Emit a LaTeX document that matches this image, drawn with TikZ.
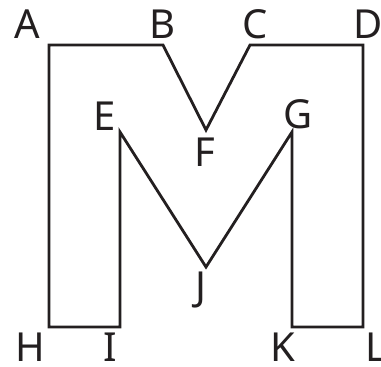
\documentclass[tikz,border=0pt]{standalone}
\usepackage{fontspec}
\setmainfont{Noto Sans}
\begin{document}
\begin{tikzpicture}[x=1pt,y=-1pt,
  outline/.style={line width=2.8pt,draw=ink,line join=miter},
  lbl/.style={inner sep=0pt,anchor=center,text=ink,font=\fontsize{40}{40}\selectfont}]
\definecolor{ink}{HTML}{231F20}
\useasboundingbox (0,0) rectangle (381,367);
\coordinate (A) at (49,45);
\coordinate (B) at (163,45);
\coordinate (F) at (206,130);
\coordinate (C) at (250,45);
\coordinate (D) at (363,45);
\coordinate (L) at (363,327);
\coordinate (K) at (292,327);
\coordinate (G) at (292,132);
\coordinate (J) at (206,267);
\coordinate (E) at (120,132);
\coordinate (I) at (120,327);
\coordinate (H) at (49,327);
\draw[outline] (A) -- (B) -- (F) -- (C) -- (D) -- (L) -- (K) -- (G) -- (J) -- (E) -- (I) -- (H) -- cycle;
\node[lbl] (lA) at (27,24) {A};
\node[lbl] (lB) at (162,24) {B};
\node[lbl] (lC) at (255,24) {C};
\node[lbl] (lD) at (368,24) {D};
\node[lbl] (lE) at (105,116) {E};
\node[lbl] (lF) at (205,152) {F};
\node[lbl] (lG) at (298,114) {G};
\node[lbl] (lJ) at (201,290) {J};
\node[lbl] (lH) at (30,347) {H};
\node[lbl] (lI) at (110,347) {I};
\node[lbl] (lK) at (283,347) {K};
\node[lbl] (lL) at (376,347) {L};
\end{tikzpicture}
\end{document}
